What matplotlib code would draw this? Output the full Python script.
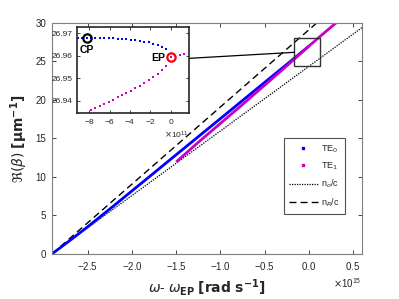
import matplotlib
matplotlib.use("Agg")
import matplotlib.pyplot as plt
import numpy as np
from matplotlib.lines import Line2D
from matplotlib.patches import Rectangle
from matplotlib.ticker import ScalarFormatter

plt.rcParams['font.family'] = ['Liberation Sans', 'DejaVu Sans']
plt.rcParams['axes.unicode_minus'] = False
plt.rcParams['mathtext.fontset'] = 'dejavusans'

# ---------------- data (main plot, x in units of 1e15 rad/s) ----------------
te0_x = [-2.908, -2.7, -2.5, -2.25, -2.0, -1.75, -1.5, -1.25, -1.0, -0.75, -0.5, -0.25, 0.0]
te0_y = [0.0, 1.79, 3.56, 5.86, 8.20, 10.54, 12.89, 15.23, 17.57, 19.92, 22.26, 24.60, 26.96]
te1_x = [-1.5, -1.25, -1.0, -0.75, -0.5, -0.25, 0.0, 0.15, 0.32]
te1_y = [11.95, 14.5, 16.95, 19.4, 21.9, 24.4, 26.96, 28.45, 30.1]
ref_x = [-2.908, 0.6]
no_y = [0.0, 29.36]
nR_y = [0.0, 35.08]

# ---------------- data (inset, x in units of 1e11 rad/s) ----------------
in_te0_x = [0.0, -0.435, -0.87, -1.305, -1.74, -2.175, -2.61, -3.045, -3.48, -3.915,
            -4.35, -4.785, -5.22, -5.655, -6.09, -6.525, -6.96, -7.395, -7.83, -8.265,
            -8.7, -9.135]
in_te0_y = [26.9596, 26.9630, 26.9641, 26.9648, 26.9654, 26.9659, 26.9663, 26.9667,
            26.9668, 26.9671, 26.9673, 26.9675, 26.9676, 26.9677, 26.9678, 26.9679,
            26.9679, 26.9679, 26.9680, 26.9680, 26.9680, 26.9680]
in_te1_x = [1.305, 0.87, 0.435, 0.0, -0.435, -0.87, -1.305, -1.74, -2.175, -2.61, -3.045,
            -3.48, -3.915, -4.35, -4.785, -5.22, -5.655, -6.09, -6.525, -6.96, -7.395, -7.83]
in_te1_y = [26.9609, 26.9604, 26.9600, 26.9596, 26.9554, 26.9535, 26.9518, 26.9504,
            26.9491, 26.9479, 26.9468, 26.9456, 26.9445, 26.9435, 26.9425, 26.9416,
            26.9406, 26.9396, 26.9387, 26.9379, 26.9369, 26.9360]
cp_x, cp_y = -8.265, 26.9680
ep_x, ep_y = 0.0, 26.9596

blue = '#0000ff'
mag = '#c800c8'
axc = '#262626'

fig = plt.figure(figsize=(3.99, 2.99), dpi=100)
ax = fig.add_axes([0.130, 0.1505, 0.777, 0.7735])

s15 = 1e15
ax.plot(np.array(ref_x) * s15, no_y, color='black', ls=(0, (1, 1)), lw=0.9)
ax.plot(np.array(ref_x) * s15, nR_y, color='black', ls=(0, (5, 3)), lw=1.0)
ax.plot(np.array(te0_x) * s15, te0_y, color=blue, lw=2.0, solid_capstyle='butt')
ax.plot(np.array(te1_x) * s15, te1_y, color=mag, lw=2.0, solid_capstyle='butt')

ax.set_xlim(-2.908e15, 0.6e15)
ax.set_ylim(0, 30)
ax.set_xticks(np.array([-2.5, -2, -1.5, -1, -0.5, 0, 0.5]) * s15)
ax.set_yticks([0, 5, 10, 15, 20, 25, 30])
fmt = ScalarFormatter(useMathText=True)
fmt.set_powerlimits((0, 0))
ax.xaxis.set_major_formatter(fmt)
ax.tick_params(direction='in', top=True, right=True, length=3, width=0.6,
               labelsize=7, colors=axc, pad=4)
ax.xaxis.get_offset_text().set_fontsize(7)
ax.xaxis.get_offset_text().set_color(axc)
for sp in ax.spines.values():
    sp.set_color('#7f7f7f')
    sp.set_linewidth(0.8)

ax.set_xlabel(r'$\omega$- $\omega_{\mathbf{EP}}$ $\mathbf{[rad\ s^{-1}]}$', fontsize=10,
              color=axc, labelpad=4)
ax.set_ylabel(r'$\Re(\beta)$ $\mathbf{[\mu m^{-1}]}$', fontsize=10, color=axc, labelpad=4)

# zoom box + connector
ax.add_patch(Rectangle((-0.166e15, 24.42), 0.294e15, 3.56, fill=False,
                       edgecolor='#333333', lw=1.0, zorder=5))
ax.plot([-1.355e15, -0.166e15], [25.38, 26.16], color='black', lw=0.9, clip_on=False, zorder=5)

# legend
handles = [
    Line2D([], [], color=blue, marker='s', ms=1.6, ls='none'),
    Line2D([], [], color=mag, marker='s', ms=1.6, ls='none'),
    Line2D([], [], color='black', ls=(0, (1, 1)), lw=0.9),
    Line2D([], [], color='black', ls=(0, (5, 3)), lw=1.0),
]
labels = ['TE$_0$', 'TE$_1$', 'n$_o$/c', 'n$_R$/c']
leg = ax.legend(handles, labels, loc='upper left', bbox_to_anchor=(0.748, 0.501),
                fontsize=6.5, frameon=True, fancybox=False, edgecolor='#262626',
                handlelength=3.2, handletextpad=0.4, labelspacing=0.65, borderpad=0.55,
                borderaxespad=0)
leg.get_frame().set_linewidth(0.8)
for t in leg.get_texts():
    t.set_color(axc)

# ---------------- inset ----------------
ins = fig.add_axes([0.192, 0.623, 0.282, 0.288])
s11 = 1e11
ins.plot(np.array(in_te0_x) * s11, in_te0_y, ls='none', marker='s', ms=1.5, mew=0, color=blue)
ins.plot(np.array(in_te1_x) * s11, in_te1_y, ls='none', marker='s', ms=1.5, mew=0, color=mag)
ins.plot([cp_x * s11], [cp_y], marker='o', ms=6, mfc='none', mec='black', mew=1.6)
ins.plot([ep_x * s11], [ep_y], marker='o', ms=6, mfc='none', mec='red', mew=1.6)
ins.text(cp_x * s11, 26.9626, 'CP', fontsize=7.5, fontweight='bold', ha='center', va='center',
         color='black')
ins.text(-0.55 * s11, 26.9589, 'EP', fontsize=7.5, fontweight='bold', ha='right', va='center',
         color='black')
ins.set_xlim(-9.24e11, 1.79e11)
ins.set_ylim(26.9348, 26.9729)
ins.set_xticks(np.array([-8, -6, -4, -2, 0]) * s11)
ins.set_yticks([26.94, 26.95, 26.96, 26.97])
ins.set_yticklabels(['26.94', '26.95', '26.96', '26.97'])
fmt2 = ScalarFormatter(useMathText=True)
fmt2.set_powerlimits((0, 0))
ins.xaxis.set_major_formatter(fmt2)
ins.tick_params(direction='in', top=True, right=True, length=2.5, width=0.6,
                labelsize=6, colors=axc, pad=3)
ins.xaxis.get_offset_text().set_fontsize(6)
ins.xaxis.get_offset_text().set_color(axc)
for sp in ins.spines.values():
    sp.set_color('#262626')
    sp.set_linewidth(1.2)

fig.savefig('out.png', dpi=100)
